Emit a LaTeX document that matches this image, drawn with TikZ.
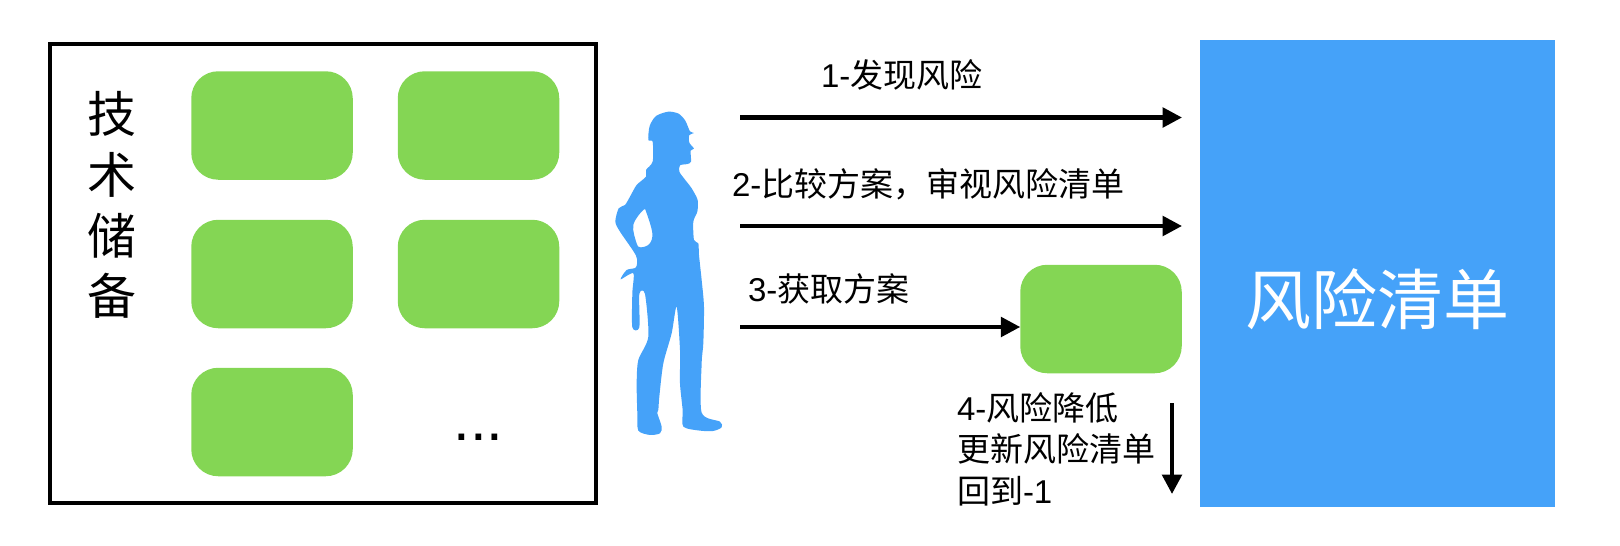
\documentclass[tikz,border=0pt]{standalone}
\usepackage{fontspec}
\setmainfont{Liberation Sans}
\newfontfamily\cjk{Noto Sans CJK SC}
\usetikzlibrary{arrows.meta}
\definecolor{tileGreen}{HTML}{84D654}
\definecolor{listBlue}{HTML}{45A2F9}
\tikzset{
  tile/.style={fill=tileGreen,rounded corners=27pt,minimum width=161.5pt,minimum height=108.5pt,inner sep=0pt,outer sep=0pt},
  flow/.style={line width=4.3pt,-{Triangle[length=19.5pt,width=19.5pt]}},
  steplabel/.style={inner sep=0pt,outer sep=0pt,font=\fontsize{33}{41.5}\selectfont,align=left},
}
\begin{document}
\begin{tikzpicture}[x=1pt,y=-1pt]
\useasboundingbox (0,0) rectangle (1620,546);
% store box
\node[draw=black,line width=4.5pt,minimum width=546pt,minimum height=459pt,inner sep=0pt] (store) at (323,273.5) {};
\node[inner sep=0pt,align=center,font=\fontsize{49}{60.8}\selectfont\cjk] (storelabel) at (112,205) {技\\术\\储\\备};
\node[tile] (t1) at (272,125.5) {};
\node[tile] (t2) at (478.5,125.5) {};
\node[tile] (t3) at (272,274) {};
\node[tile] (t4) at (478.5,274) {};
\node[tile] (t5) at (272,422) {};
\node[inner sep=0pt,font=\fontsize{60}{60}\selectfont,anchor=base] (more) at (478.5,440) {...};
% worker silhouette
\begin{scope}[shift={(580,90)},x=0.3333pt,y=-0.3333pt]
\fill[listBlue,even odd rule]
  plot[smooth cycle,tension=0.45] coordinates {
  (265,65)(296,71)(316,92)(330,124)(342,129)(328,135)(328,158)(342,176)(332,182)(333,215)(322,222)(300,226)(298,245)(312,265)(335,295)(353,330)(352,365)(340,395)(342,450)(355,460)(357,495)(365,570)(372,650)(370,760)(365,820)(365,968)(420,995)(425,1012)(400,1023)(360,1022)(310,1010)(308,960)(300,880)(300,780)(290,650)(275,730)(250,820)(238,920)(235,960)(232,970)(245,1010)(240,1030)(210,1035)(175,1022)(172,970)(170,880)(175,810)(205,740)(195,612)(178,612)(178,712)(157,712)(157,610)(160,550)(122,568)(140,540)(168,532)(168,497)(120,425)(106,395)(116,355)(135,345)(150,320)(170,285)(198,260)(198,240)(218,215)(218,155)(205,150)(209,108)(228,78)}
  plot[smooth cycle,tension=0.6] coordinates {(190,360)(160,405)(170,460)(182,472)(208,462)(217,430)(200,370)};
\end{scope}
% risk list
\node[fill=listBlue,minimum width=355pt,minimum height=467pt,inner sep=0pt] (list) at (1377.5,273.5) {};
\node[inner sep=0pt,text=white,font=\fontsize{66}{66}\selectfont\cjk] (listlabel) at (1377.5,299.5) {风险清单};
% step 3 result
\node[tile] (result) at (1101,319) {};
% connectors
\coordinate (a1s) at (740,117.5);
\coordinate (a1e) at (1182,117.5);
\coordinate (a2s) at (740,226);
\coordinate (a2e) at (1182,226);
\coordinate (a3s) at (740,327);
\coordinate (a4s) at (1172,403);
\coordinate (a4e) at (1172,494);
\draw[flow] (a1s) -- (a1e);
\draw[flow] (a2s) -- (a2e);
\draw[flow] (a3s) -- (a3s -| result.west);
\draw[flow] (a4s) -- (a4e);
% labels
\node[steplabel,anchor=base west] (l1) at (821,87) {1-{\cjk 发现风险}};
\node[steplabel,anchor=base west] (l2) at (732,196.5) {2-{\cjk 比较方案，审视风险清单}};
\node[steplabel,anchor=base west] (l3) at (748,301.5) {3-{\cjk 获取方案}};
\node[steplabel,anchor=west] (l4) at (957,449) {4-{\cjk 风险降低}\\{\cjk 更新风险清单}\\{\cjk 回到}-1};
\end{tikzpicture}
\end{document}
